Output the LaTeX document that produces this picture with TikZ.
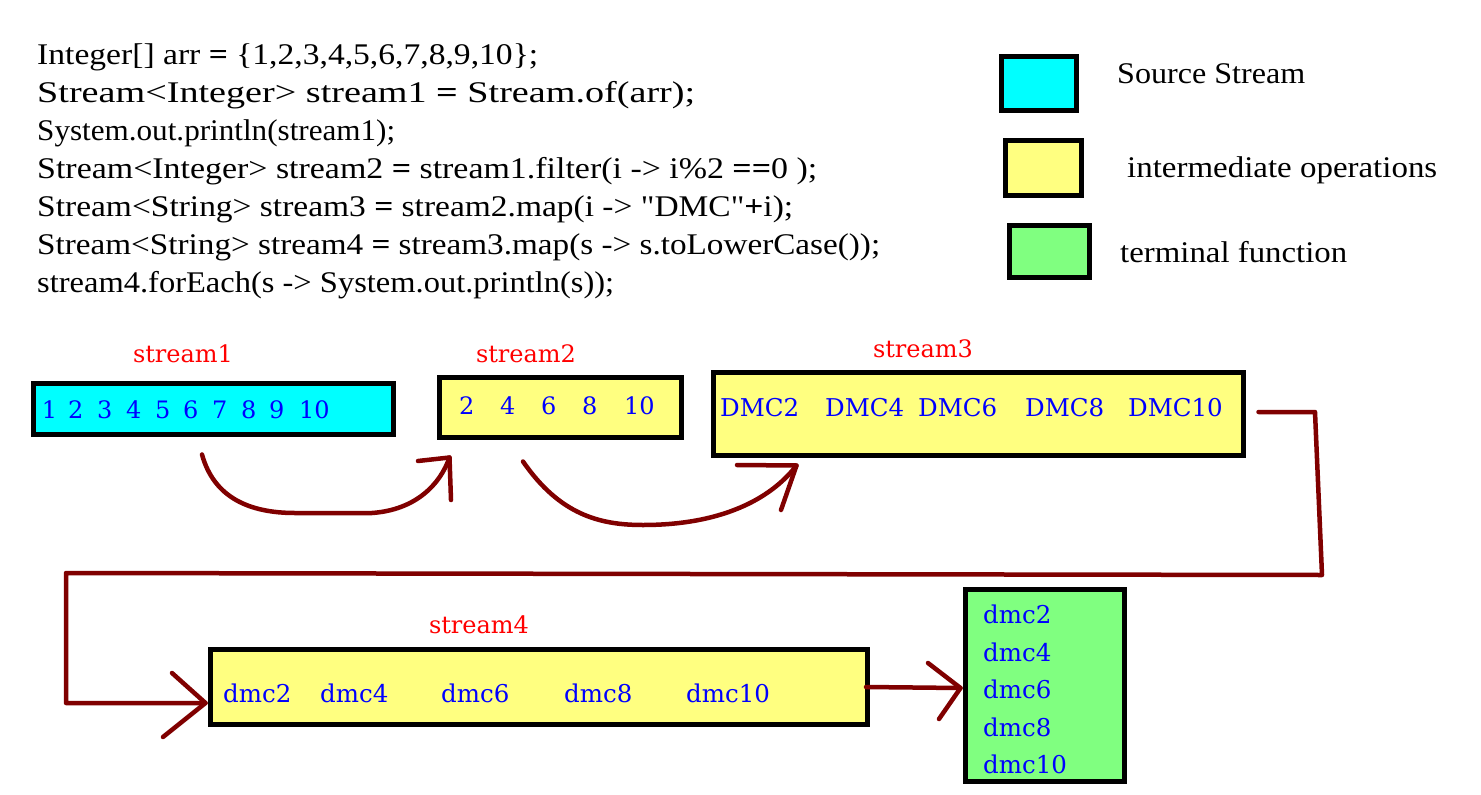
\documentclass[tikz,border=0pt]{standalone}
\usepackage{fontspec}
\setmainfont{DejaVu Serif}
\newfontfamily\codefont{Liberation Serif}
\usetikzlibrary{calc}
\definecolor{dred}{RGB}{128,0,0}
\definecolor{cyanf}{RGB}{0,255,255}
\definecolor{yellf}{RGB}{255,255,128}
\definecolor{greenf}{RGB}{128,255,128}
\newcommand\cellx[2]{\makebox[#1pt][l]{#2}}
\newcommand\cw[2]{\resizebox{#1pt}{\height}{#2}}
\begin{document}
\begin{tikzpicture}[x=1pt,y=-1pt,
  box/.style={draw=black, line width=5pt, rectangle, inner sep=0pt},
  code/.style={anchor=base west, inner sep=0pt, font=\codefont\fontsize{30}{34}\selectfont},
  lbl/.style={anchor=base, inner sep=0pt, text=red, font=\fontsize{24}{28}\selectfont},
  num/.style={anchor=base west, inner sep=0pt, text=blue, font=\fontsize{24}{28}\selectfont},
  val/.style={anchor=base west, inner sep=0pt, text=blue, font=\fontsize{24.5}{28}\selectfont},
  conn/.style={draw=dred, line width=4.5pt, line cap=round, line join=round},
]
\useasboundingbox[fill=white] (0,0) rectangle (1481,795);

% code
\node[code] (c1) at (37,64)  {\cw{501}{Integer[] arr \textbf{=} \{1,2,3,4,5,6,7,8,9,10\};}};
\node[code] (c2) at (37,102) {\cw{658}{Stream<Integer> stream1 \textbf{=} Stream.of(arr);}};
\node[code] (c3) at (37,140) {\cw{358}{System.out.println(stream1);}};
\node[code] (c4) at (37,178) {\cw{780}{Stream<Integer> stream2 \textbf{=} stream1.filter(i -> i\%2 \textbf{==}0 );}};
\node[code] (c5) at (37,216) {\cw{756}{Stream<String> stream3 \textbf{=} stream2.map(i -> "DMC"\textbf{+}i);}};
\node[code] (c6) at (37,254) {\cw{843}{Stream<String> stream4 \textbf{=} stream3.map(s -> s.toLowerCase());}};
\node[code] (c7) at (37,292) {\cw{577}{stream4.forEach(s -> System.out.println(s));}};

% legend
\node[box, fill=cyanf, minimum width=75pt, minimum height=54pt] (lg1) at (1039,83.5) {};
\node[box, fill=yellf, minimum width=76pt, minimum height=55pt] (lg2) at (1043.5,168) {};
\node[box, fill=greenf, minimum width=80pt, minimum height=52pt] (lg3) at (1049.5,251.5) {};
\node[code] (lt1) at (1117,83)  {\cw{188}{Source Stream}};
\node[code] (lt2) at (1127,177) {\cw{310}{intermediate operations}};
\node[code] (lt3) at (1120,262) {\cw{227}{terminal function}};

% stream boxes
\node[box, fill=cyanf, minimum width=360pt, minimum height=51pt] (s1) at (213.5,409) {};
\node[box, fill=yellf, minimum width=242pt, minimum height=60pt] (s2) at (560.5,407.5) {};
\node[box, fill=yellf, minimum width=530pt, minimum height=83pt] (s3) at (978.5,414) {};
\node[box, fill=yellf, minimum width=657pt, minimum height=75pt] (s4) at (539,687) {};
\node[box, fill=greenf, minimum width=159pt, minimum height=192pt] (s5) at (1045,685.5) {};

% labels
\node[lbl] (l1) at (183,362) {stream1};
\node[lbl] (l2) at (526,362) {stream2};
\node[lbl] (l3) at (923,357) {stream3};
\node[lbl] (l4) at (479,633) {stream4};

% values
\node[num] (v1) at (41.7,418) {\cellx{26.3}{1}\cellx{29}{2}\cellx{29}{3}\cellx{29}{4}\cellx{28}{5}\cellx{29}{6}\cellx{29}{7}\cellx{28}{8}\cellx{30}{9}10};
\node[num] (v2) at (459,414) {\cellx{41}{2}\cellx{41}{4}\cellx{41}{6}\cellx{42}{8}10};
\node[val] (v3) at (720,416) {\cellx{105}{DMC2}\cellx{93}{DMC4}\cellx{107}{DMC6}\cellx{103}{DMC8}DMC10};
\node[val] (v4) at (223,702) {\cellx{97}{dmc2}\cellx{121}{dmc4}\cellx{123}{dmc6}\cellx{122}{dmc8}dmc10};
\node[val] (g1) at (983,623) {dmc2};
\node[val] (g2) at (983,661) {dmc4};
\node[val] (g3) at (983,698) {dmc6};
\node[val] (g4) at (983,736) {dmc8};
\node[val] (g5) at (983,773) {dmc10};

% curved arrow s1 -> s2
\coordinate (a1s) at ($(s1.south)+(-11.5,17.5)$);
\coordinate (a1t) at ($(s2.south west)+(12.5,17.5)$);
\draw[conn] (a1s) .. controls (214,498) and (250,513) .. (295,513) -- (372,513)
  .. controls (415,510) and (440,485) .. (a1t);
\draw[conn] (418,461) -- (a1t) -- (451,500);

% curved arrow s2 -> s3
\coordinate (a2s) at ($(s2.south)+(-37.5,21.5)$);
\coordinate (a2t) at ($(s3.south west)+(85.5,7.5)$);
\draw[conn] (a2s) .. controls (560,515) and (600,525) .. (643,525)
  .. controls (720,525) and (770,500) .. (a2t);
\draw[conn] (737,465) -- (a2t) -- (781,510);

% s3 -> s4 elbow connector
\coordinate (k0) at ($(s3.east)+(12.5,-2)$);
\coordinate (k1) at (1315,412);
\coordinate (k2) at (1322,575);
\coordinate (k3) at (66,573);
\coordinate (k4) at (66,703);
\coordinate (k5) at ($(s4.west)+(-2.5,16)$);
\draw[conn] (k0) -- (k1) -- (k2) -- (k3) -- (k4) -- (k5);
\draw[conn] (172,673) -- (k5) -- (163,737);

% s4 -> s5
\coordinate (m0) at ($(s4.east)+(-4,0)$);
\coordinate (m1) at ($(s5.west |- s4.east)+(-2.5,1)$);
\draw[conn] (m0) -- (m1);
\draw[conn] (928,663) -- (m1) -- (939,719);
\end{tikzpicture}
\end{document}
